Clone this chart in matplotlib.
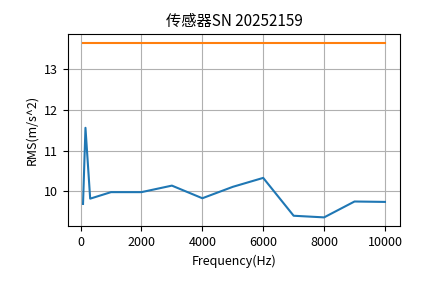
#!/usr/bin/env python3
import matplotlib
matplotlib.use("Agg")
import matplotlib.pyplot as plt

plt.rcParams["font.family"] = ["Noto Sans CJK SC", "DejaVu Sans"]
plt.rcParams["axes.unicode_minus"] = False

# measured RMS per frequency point
freq_hz = [80, 160, 315, 1000, 2000, 3000, 4000, 5000, 6000, 7000, 8000, 9000, 10000]
rms = [9.69, 11.56, 9.82, 9.98, 9.98, 10.14, 9.83, 10.11, 10.33, 9.40, 9.36, 9.75, 9.74]
limit_freq = [80, 10000]
limit_rms = [13.65, 13.65]

title = "传感器SN 20252159"


def main():
    fig = plt.figure(figsize=(4.44, 2.83), dpi=100)
    ax = fig.add_axes([0.153, 0.201, 0.748, 0.679])
    ax.plot(freq_hz, rms, color="#1f77b4", linewidth=1.5)
    ax.plot(limit_freq, limit_rms, color="#ff7f0e", linewidth=1.5)
    ax.set_title(title, fontsize=11)
    ax.set_xlabel("Frequency(Hz)", fontsize=9)
    ax.set_ylabel("RMS(m/s^2)", fontsize=9)
    ax.set_xticks([0, 2000, 4000, 6000, 8000, 10000])
    ax.set_yticks([10, 11, 12, 13])
    ax.tick_params(labelsize=9)
    ax.grid(True)
    fig.savefig("out.png", dpi=100)
    plt.close(fig)


if __name__ == "__main__":
    main()
